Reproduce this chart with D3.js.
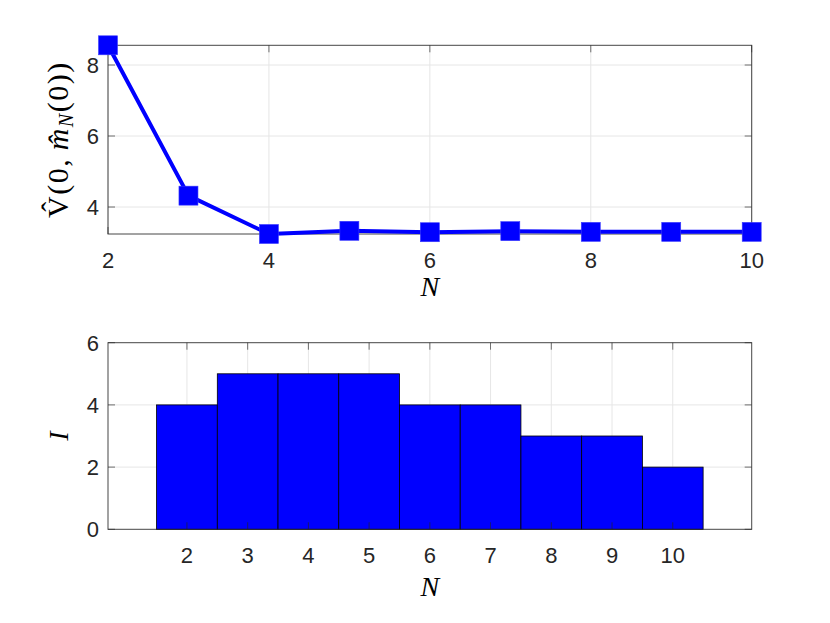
<!DOCTYPE html>
<html><head><meta charset="utf-8">
<script src="https://cdn.jsdelivr.net/npm/d3@7"></script>
<style>body{margin:0;background:#fff}svg{display:block}</style>
</head><body>
<script>
// ---- data ----
const topN = [2, 3, 4, 5, 6, 7, 8, 9, 10];
const topV = [8.555, 4.32, 3.24, 3.33, 3.29, 3.32, 3.30, 3.30, 3.30];
const topXTicks = [2, 4, 6, 8, 10];
const topYTicks = [4, 6, 8];
const barN = [2, 3, 4, 5, 6, 7, 8, 9, 10];
const barI = [4, 5, 5, 5, 4, 4, 3, 3, 2];
const barYTicks = [0, 2, 4, 6];

const W = 830, H = 623;
const svg = d3.select("body").append("svg").attr("width", W).attr("height", H);
const axisCol = "#262626", gridCol = "#e6e6e6", blue = "#0000ff";
const tickFont = "'Liberation Sans', Arial, sans-serif";
const serif = "'Liberation Serif', 'Times New Roman', serif";
const TF = 22, LF = 28;

function frame(g, x, y, xTicks, yTicks, xLabels) {
  const [x0, x1] = x.range(), [y0, y1] = y.range(); // y0 bottom, y1 top
  const tl = 7;
  xTicks.forEach(t => {
    g.append("line").attr("x1", x(t)).attr("x2", x(t)).attr("y1", y0).attr("y2", y0 - tl).attr("stroke", axisCol).attr("stroke-width", 0.8).attr("opacity", 0.8);
    g.append("line").attr("x1", x(t)).attr("x2", x(t)).attr("y1", y1).attr("y2", y1 + tl).attr("stroke", axisCol).attr("stroke-width", 0.8).attr("opacity", 0.8);
  });
  yTicks.forEach(t => {
    g.append("line").attr("x1", x0).attr("x2", x0 + tl).attr("y1", y(t)).attr("y2", y(t)).attr("stroke", axisCol).attr("stroke-width", 0.8).attr("opacity", 0.8);
    g.append("line").attr("x1", x1).attr("x2", x1 - tl).attr("y1", y(t)).attr("y2", y(t)).attr("stroke", axisCol).attr("stroke-width", 0.8).attr("opacity", 0.8);
  });
  g.append("rect").attr("x", x0).attr("y", y1).attr("width", x1 - x0).attr("height", y0 - y1)
    .attr("fill", "none").attr("stroke", axisCol).attr("stroke-width", 1).attr("opacity", 0.85);
  g.selectAll(null).data(xTicks).enter().append("text")
    .attr("x", d => x(d)).attr("y", y0 + 34).attr("text-anchor", "middle")
    .attr("font-family", tickFont).attr("font-size", TF).attr("fill", axisCol).text((d, i) => xLabels[i]);
  g.selectAll(null).data(yTicks).enter().append("text")
    .attr("x", x0 - 9).attr("y", d => y(d) + 8).attr("text-anchor", "end")
    .attr("font-family", tickFont).attr("font-size", TF).attr("fill", axisCol).text(d => d);
}

function grid(g, x, y, xTicks, yTicks) {
  const [x0, x1] = x.range(), [y0, y1] = y.range();
  xTicks.forEach(t => g.append("line").attr("x1", x(t)).attr("x2", x(t)).attr("y1", y0).attr("y2", y1).attr("stroke", gridCol).attr("stroke-width", 1));
  yTicks.forEach(t => g.append("line").attr("x1", x0).attr("x2", x1).attr("y1", y(t)).attr("y2", y(t)).attr("stroke", gridCol).attr("stroke-width", 1));
}

// ---- top plot ----
const L = 108, R = 751.7;
const xT = d3.scaleLinear().domain([2, 10]).range([L, R]);
const yT = d3.scaleLinear().domain([3.24, 8.555]).range([234, 45.3]);
const gT = svg.append("g");
grid(gT, xT, yT, topXTicks, topYTicks);
frame(gT, xT, yT, topXTicks, topYTicks, topXTicks);
const line = d3.line().x((d, i) => xT(topN[i])).y(d => yT(d));
gT.append("path").datum(topV).attr("d", line).attr("fill", "none").attr("stroke", blue).attr("stroke-width", 4).attr("stroke-linejoin", "round");
const ms = 19;
gT.selectAll(null).data(topV).enter().append("rect")
  .attr("x", (d, i) => xT(topN[i]) - ms / 2).attr("y", d => yT(d) - ms / 2)
  .attr("width", ms).attr("height", ms).attr("fill", blue).attr("stroke", "#3a3aff").attr("stroke-width", 0.6);
gT.append("text").attr("x", (L + R) / 2).attr("y", 296).attr("text-anchor", "middle")
  .attr("font-family", serif).attr("font-style", "italic").attr("font-size", LF).attr("fill", "#000").text("N");
const yl = gT.append("text").attr("transform", `translate(68,${(234 + 45.3) / 2}) rotate(-90)`)
  .attr("text-anchor", "middle").attr("font-family", serif).attr("font-size", 30).attr("letter-spacing", 1.5).attr("fill", "#000");
yl.append("tspan").text("V\u0302");
yl.append("tspan").text("(0,\u2009");
yl.append("tspan").attr("font-style", "italic").text("m\u0302");
yl.append("tspan").attr("font-style", "italic").attr("font-size", 20).attr("dy", 5).text("N");
yl.append("tspan").attr("dy", -5).text("(0))");

// ---- bottom plot ----
const xB = d3.scaleLinear().domain([0.7, 11.3]).range([L, R]);
const yB = d3.scaleLinear().domain([0, 6]).range([529.3, 342.7]);
const gB = svg.append("g");
const posB = barN.map((d, i) => i + 2);
grid(gB, xB, yB, posB, [2, 4]);
gB.selectAll(null).data(barI).enter().append("rect")
  .attr("x", (d, i) => xB(posB[i] - 0.5)).attr("width", (d, i) => xB(posB[i] + 0.5) - xB(posB[i] - 0.5))
  .attr("y", d => yB(d)).attr("height", d => yB(0) - yB(d))
  .attr("fill", blue).attr("stroke", "#000").attr("stroke-width", 0.8);
frame(gB, xB, yB, posB, barYTicks, barN);
gB.append("text").attr("x", xB(6)).attr("y", 596).attr("text-anchor", "middle")
  .attr("font-family", serif).attr("font-style", "italic").attr("font-size", LF).attr("fill", "#000").text("N");
gB.append("text").attr("transform", `translate(68,${(529.3 + 342.7) / 2}) rotate(-90)`)
  .attr("text-anchor", "middle").attr("font-family", serif).attr("font-style", "italic").attr("font-size", LF).attr("fill", "#000").text("I");
</script>
</body></html>
